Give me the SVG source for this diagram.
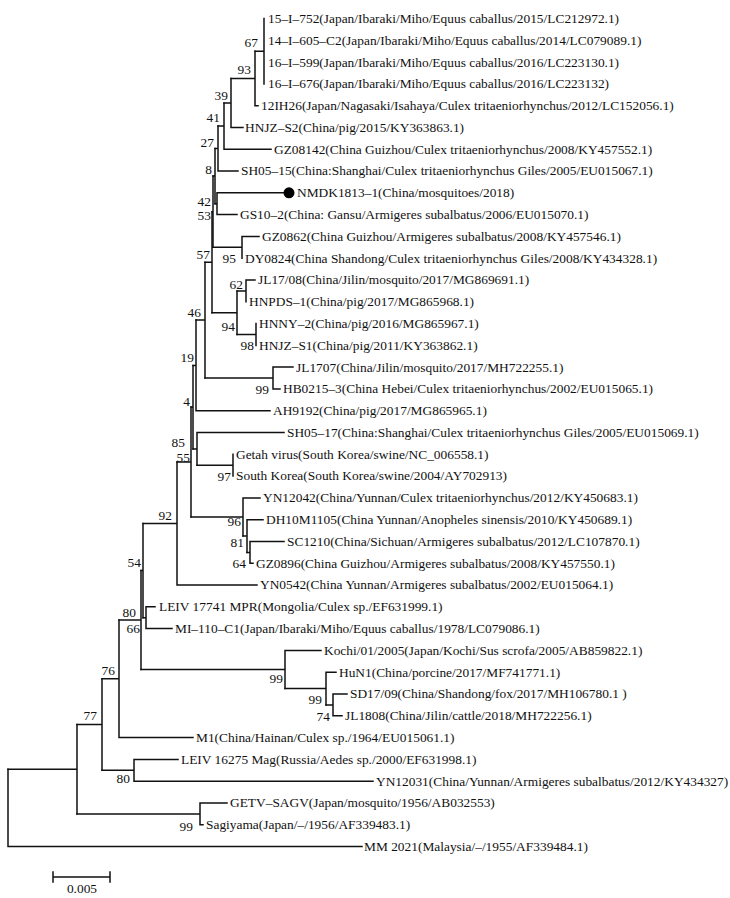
<svg xmlns="http://www.w3.org/2000/svg" width="730" height="898" viewBox="0 0 730 898">
<style>
.b{fill:none;stroke:#111;stroke-width:1.5;stroke-linecap:square}
text{font-family:"Liberation Serif","Times New Roman",serif;font-size:13.4px;fill:#111}
.s{text-anchor:end}
</style>
<rect width="730" height="898" fill="#fff"/>
<g id="connectors">
<path class="b" d="M8 769.2V846.5H362"/>
<path class="b" d="M8 769.2H77M77 724.5V813.9"/>
<path class="b" d="M77 724.5H102M102 678.8V770.3"/>
<path class="b" d="M77 813.9H200M200 803V824.8M200 803H227M200 824.8H203"/>
<path class="b" d="M102 678.8H119M119 620V737.6H193"/>
<path class="b" d="M102 770.3H134M134 759.4V781.2M134 759.4H178M134 781.2H373"/>
<path class="b" d="M119 620H141M141 570.6V669.5"/>
<path class="b" d="M141 669.5H285M285 650.4V688.5M285 650.4H321"/>
<path class="b" d="M285 688.5H326M326 672.2V704.9M326 672.2H336"/>
<path class="b" d="M326 704.9H333M333 694V715.8M333 694H347M333 715.8H342"/>
<path class="b" d="M141 570.6H143M143 523.5V617.7"/>
<path class="b" d="M143 617.7H146M146 606.8V628.6M146 606.8H155M146 628.6H172"/>
<path class="b" d="M143 523.5H177M177 462V585H257"/>
<path class="b" d="M177 462H191M191 407.1V517"/>
<path class="b" d="M191 517H243M243 497.9V536M243 497.9H260"/>
<path class="b" d="M243 536H247M247 519.7V552.4M247 519.7H263"/>
<path class="b" d="M247 552.4H250M250 541.5V563.3M250 541.5H284M250 563.3H253"/>
<path class="b" d="M191 407.1H193M193 365.4V448.9"/>
<path class="b" d="M193 448.9H197M197 432.5V465.2M197 432.5H284"/>
<path class="b" d="M197 465.2H233M233 454.3V476.1"/>
<path class="b" d="M193 365.4H196M196 320.1V410.7H270"/>
<path class="b" d="M196 320.1H205M205 262.2V378"/>
<path class="b" d="M205 378H273M273 367.1V388.9M273 367.1H293M273 388.9H280"/>
<path class="b" d="M205 262.2H212M212 211.7V312.7"/>
<path class="b" d="M212 312.7H237M237 290.9V334.5"/>
<path class="b" d="M237 290.9H246M246 280V301.8M246 280H255"/>
<path class="b" d="M237 334.5H256M256 323.6V345.4"/>
<path class="b" d="M212 211.7H213M213 176V247.3"/>
<path class="b" d="M213 247.3H242M242 236.4V258.2M242 236.4H259"/>
<path class="b" d="M213 176H215M215 148.5V203.7"/>
<path class="b" d="M215 203.7H217M217 192.8V214.6M217 192.8H284M217 214.6H237"/>
<path class="b" d="M215 148.5H218M218 126V171H238"/>
<path class="b" d="M218 126H224M224 103V149.2H271"/>
<path class="b" d="M224 103H231M231 78.5V127.5H243"/>
<path class="b" d="M231 78.5H255M255 51.2V105.7H258"/>
<path class="b" d="M255 51.2H264M264 18.5V83.9"/>
</g>
<g id="support">
<text class="s" x="258" y="47">67</text>
<text class="s" x="251" y="74">93</text>
<text class="s" x="228" y="100">39</text>
<text class="s" x="220" y="122">41</text>
<text class="s" x="214" y="147">27</text>
<text class="s" x="212" y="174">8</text>
<text class="s" x="211" y="206">42</text>
<text class="s" x="211" y="220">53</text>
<text class="s" x="236" y="263">95</text>
<text class="s" x="210" y="259">57</text>
<text class="s" x="243" y="289">62</text>
<text class="s" x="201" y="317">46</text>
<text class="s" x="235" y="331">94</text>
<text class="s" x="254" y="350">98</text>
<text class="s" x="194" y="362">19</text>
<text class="s" x="269" y="394">99</text>
<text class="s" x="190" y="406">4</text>
<text class="s" x="185" y="447">85</text>
<text class="s" x="190" y="462">55</text>
<text class="s" x="231" y="481">97</text>
<text class="s" x="172" y="520">92</text>
<text class="s" x="241" y="526">96</text>
<text class="s" x="244" y="547">81</text>
<text class="s" x="246" y="568">64</text>
<text class="s" x="141" y="567">54</text>
<text class="s" x="136" y="617">80</text>
<text class="s" x="140" y="633">66</text>
<text class="s" x="283" y="683">99</text>
<text class="s" x="322" y="704">99</text>
<text class="s" x="330" y="721">74</text>
<text class="s" x="115" y="675">76</text>
<text class="s" x="97" y="720">77</text>
<text class="s" x="130" y="783">80</text>
<text class="s" x="193" y="831">99</text>
</g>
<g id="n1"><text x="268" y="23">15–I–752(Japan/Ibaraki/Miho/Equus caballus/2015/LC212972.1)</text></g>
<g id="n2"><text x="268" y="45">14–I–605–C2(Japan/Ibaraki/Miho/Equus caballus/2014/LC079089.1)</text></g>
<g id="n3"><text x="268" y="67">16–I–599(Japan/Ibaraki/Miho/Equus caballus/2016/LC223130.1)</text></g>
<g id="n4"><text x="268" y="88">16–I–676(Japan/Ibaraki/Miho/Equus caballus/2016/LC223132)</text></g>
<g id="n5"><text x="261" y="110">12IH26(Japan/Nagasaki/Isahaya/Culex tritaeniorhynchus/2012/LC152056.1)</text></g>
<g id="n6"><text x="245" y="132">HNJZ–S2(China/pig/2015/KY363863.1)</text></g>
<g id="n7"><text x="274" y="154">GZ08142(China Guizhou/Culex tritaeniorhynchus/2008/KY457552.1)</text></g>
<g id="n8"><text x="241" y="175">SH05–15(China:Shanghai/Culex tritaeniorhynchus Giles/2005/EU015067.1)</text></g>
<g id="n9"><circle cx="289" cy="192.8" r="5.5" fill="#000"/><text x="297" y="197">NMDK1813–1(China/mosquitoes/2018)</text></g>
<g id="n10"><text x="240" y="219">GS10–2(China: Gansu/Armigeres subalbatus/2006/EU015070.1)</text></g>
<g id="n11"><text x="262" y="241">GZ0862(China Guizhou/Armigeres subalbatus/2008/KY457546.1)</text></g>
<g id="n12"><text x="245" y="263">DY0824(China Shandong/Culex tritaeniorhynchus Giles/2008/KY434328.1)</text></g>
<g id="n13"><text x="258" y="284">JL17/08(China/Jilin/mosquito/2017/MG869691.1)</text></g>
<g id="n14"><text x="249" y="306">HNPDS–1(China/pig/2017/MG865968.1)</text></g>
<g id="n15"><text x="259" y="328">HNNY–2(China/pig/2016/MG865967.1)</text></g>
<g id="n16"><text x="259" y="350">HNJZ–S1(China/pig/2011/KY363862.1)</text></g>
<g id="n17"><text x="296" y="372">JL1707(China/Jilin/mosquito/2017/MH722255.1)</text></g>
<g id="n18"><text x="283" y="393">HB0215–3(China Hebei/Culex tritaeniorhynchus/2002/EU015065.1)</text></g>
<g id="n19"><text x="273" y="415">AH9192(China/pig/2017/MG865965.1)</text></g>
<g id="n20"><text x="287" y="437">SH05–17(China:Shanghai/Culex tritaeniorhynchus Giles/2005/EU015069.1)</text></g>
<g id="n21"><text x="236" y="459">Getah virus(South Korea/swine/NC_006558.1)</text></g>
<g id="n22"><text x="236" y="480">South Korea(South Korea/swine/2004/AY702913)</text></g>
<g id="n23"><text x="263" y="502">YN12042(China/Yunnan/Culex tritaeniorhynchus/2012/KY450683.1)</text></g>
<g id="n24"><text x="266" y="524">DH10M1105(China Yunnan/Anopheles sinensis/2010/KY450689.1)</text></g>
<g id="n25"><text x="287" y="546">SC1210(China/Sichuan/Armigeres subalbatus/2012/LC107870.1)</text></g>
<g id="n26"><text x="256" y="568">GZ0896(China Guizhou/Armigeres subalbatus/2008/KY457550.1)</text></g>
<g id="n27"><text x="260" y="589">YN0542(China Yunnan/Armigeres subalbatus/2002/EU015064.1)</text></g>
<g id="n28"><text x="159" y="611">LEIV 17741 MPR(Mongolia/Culex sp./EF631999.1)</text></g>
<g id="n29"><text x="175" y="633">MI–110–C1(Japan/Ibaraki/Miho/Equus caballus/1978/LC079086.1)</text></g>
<g id="n30"><text x="324" y="655">Kochi/01/2005(Japan/Kochi/Sus scrofa/2005/AB859822.1)</text></g>
<g id="n31"><text x="339" y="677">HuN1(China/porcine/2017/MF741771.1)</text></g>
<g id="n32"><text x="350" y="698">SD17/09(China/Shandong/fox/2017/MH106780.1 )</text></g>
<g id="n33"><text x="345" y="720">JL1808(China/Jilin/cattle/2018/MH722256.1)</text></g>
<g id="n34"><text x="196" y="742">M1(China/Hainan/Culex sp./1964/EU015061.1)</text></g>
<g id="n35"><text x="181" y="764">LEIV 16275 Mag(Russia/Aedes sp./2000/EF631998.1)</text></g>
<g id="n36"><text x="376" y="786">YN12031(China/Yunnan/Armigeres subalbatus/2012/KY434327)</text></g>
<g id="n37"><text x="230" y="807">GETV–SAGV(Japan/mosquito/1956/AB032553)</text></g>
<g id="n38"><text x="206" y="829">Sagiyama(Japan/–/1956/AF339483.1)</text></g>
<g id="n39"><text x="364" y="851">MM 2021(Malaysia/–/1955/AF339484.1)</text></g>
<g id="scale">
<path class="b" d="M53 877H110M53 872V882M110 872V882"/>
<text x="82" y="893" text-anchor="middle">0.005</text>
</g>
</svg>
